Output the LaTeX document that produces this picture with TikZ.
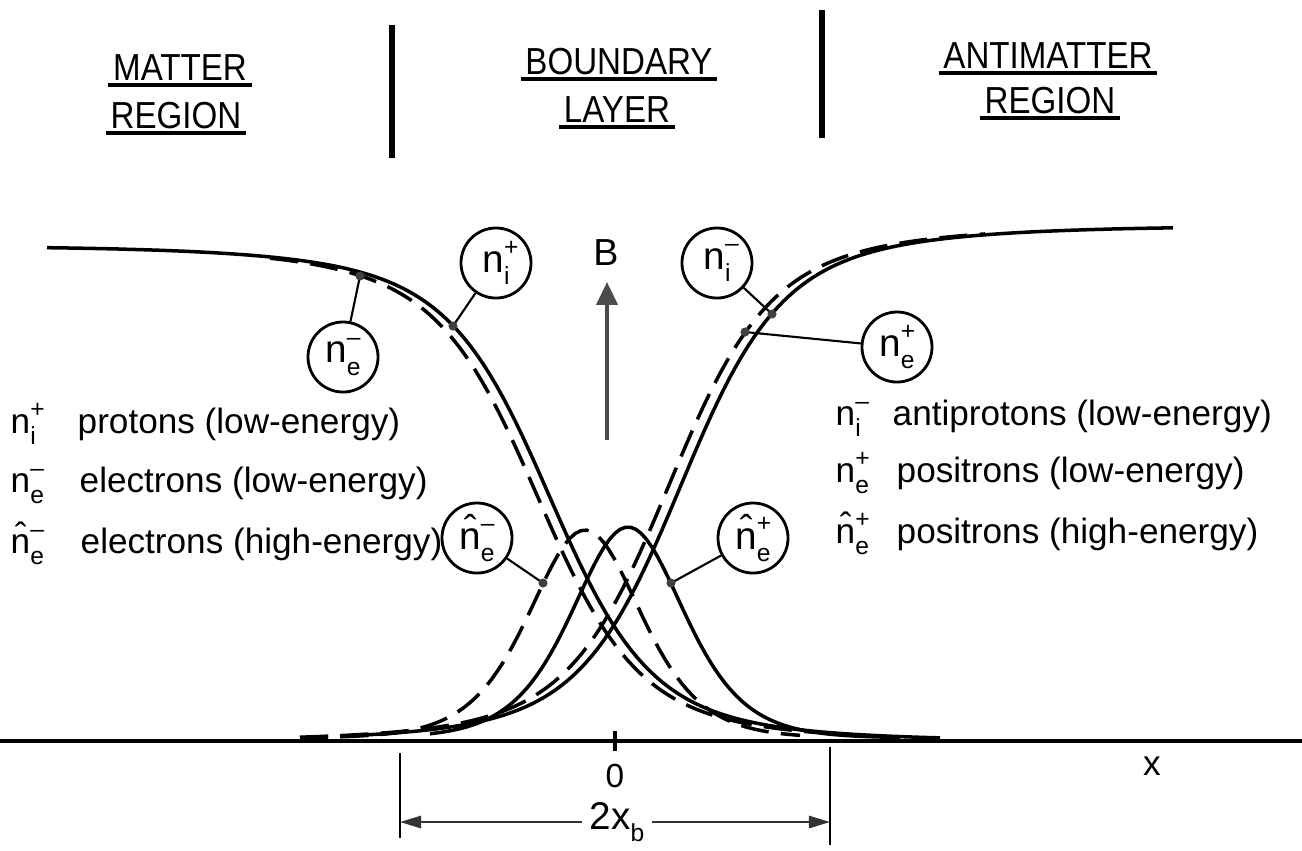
\documentclass[tikz,border=0pt]{standalone}
\usepackage{fontspec}
\setmainfont{Liberation Sans}
\newfontfamily\headfont[FakeStretch=0.88]{Liberation Sans}
\usetikzlibrary{arrows.meta,positioning}

% density symbol: base letter, subscript, superscript
\newcommand{\dens}[3]{#1\makebox[0pt][l]{\raisebox{0.85ex}{\scriptsize #3}}\raisebox{-0.6ex}{\scriptsize #2}}

\tikzstyle{heading} = [inner sep=0pt, anchor=base, font=\headfont\fontsize{10.7}{12}\selectfont]
\tikzstyle{uline} = [line width=1.2pt]
\tikzstyle{divider} = [line width=1.5pt]
\tikzstyle{solidcurve} = [line width=1pt]
\tikzstyle{dashcurve} = [line width=1pt, dash pattern=on 8pt off 3.5pt]
\tikzstyle{tag} = [
    circle,
    draw,
    line width=0.8pt,
    minimum size=0.7cm,
    inner sep=0pt,
    fill=white,
    font=\fontsize{11}{11}\selectfont
]
\tikzstyle{lead} = [line width=0.6pt]
\tikzstyle{blob} = [fill=black!75]
\tikzstyle{legend} = [anchor=base west, inner sep=0pt, font=\fontsize{10}{12}\selectfont]
\tikzstyle{axis} = [line width=0.9pt]
\tikzstyle{field} = [
    -{Triangle[length=6.5pt,width=6pt]},
    line width=1pt,
    draw=black!70
]
\tikzstyle{dim} = [
    -{Triangle[length=6pt,width=3.5pt]},
    line width=0.6pt,
    draw=black!80
]

\begin{document}
\begin{tikzpicture}[x=0.01cm, y=-0.01cm]
    \useasboundingbox (0,0) rectangle (1302,850);

    % Region headings
    \node[heading] (mat1) at (180,80) {MATTER};
    \node[heading] (mat2) at (176,128) {REGION};
    \node[heading] (bnd1) at (619,74) {BOUNDARY};
    \node[heading] (bnd2) at (617,122) {LAYER};
    \node[heading] (anti1) at (1048,68) {ANTIMATTER};
    \node[heading] (anti2) at (1050,113) {REGION};
    \foreach \h in {mat1,mat2,bnd1,bnd2,anti1,anti2}
        \draw[uline] ([xshift=-1.2pt,yshift=-1.5pt]\h.base west) -- ([xshift=1.2pt,yshift=-1.5pt]\h.base east);

    % Dividers
    \draw[divider] (392,25) -- (392,158);
    \draw[divider] (822,10) -- (822,138);

    % Axis
    \draw[axis] (0,741) -- (1302,741);
    \draw[axis] (615,731) -- (615,751);
    \node[font=\fontsize{9.5}{10}\selectfont] (zero) at (615,776) {0};
    \node[font=\fontsize{10}{10}\selectfont] (xlab) at (1152,766) {x};

    % Low-energy densities
    \draw[solidcurve] plot[domain=47:940, samples=140] (\x, {741-400/(1+exp((\x-550)/48))-95/(1+exp((\x-530)/120))});
    \draw[dashcurve] plot[domain=270:815, samples=110] (\x, {741-400/(1+exp((\x-538)/48))-95/(1+exp((\x-518)/120))});
    \draw[solidcurve] plot[domain=340:1173, samples=140] (\x, {741-420/(1+exp(-(\x-680)/48))-95/(1+exp(-(\x-700)/120))});
    \draw[dashcurve] plot[domain=300:985, samples=120] (\x, {741-420/(1+exp(-(\x-668)/48))-95/(1+exp(-(\x-688)/120))});

    % High-energy densities
    \draw[dashcurve] plot[domain=300:800, samples=90] (\x, {738-208*4/(exp((\x-585)/75)+exp(-(\x-585)/75))^2});
    \draw[solidcurve] plot[domain=430:900, samples=90] (\x, {738-211*4/(exp((\x-628)/75)+exp(-(\x-628)/75))^2});

    % Points on the curves
    \coordinate (pne) at (360,276);
    \coordinate (pnip) at (453,326);
    \coordinate (pnim) at (772,314);
    \coordinate (pnep) at (745,332);
    \coordinate (phne) at (543,583);
    \coordinate (phnp) at (671,583);

    % Circled labels
    \node[tag] (cne) at (343,357) {\dens{n}{e}{–}};
    \node[tag] (cnip) at (496,263) {\dens{n}{i}{+}};
    \node[tag] (cnim) at (717,263) {\dens{n}{i}{–}};
    \node[tag] (cnep) at (897,347) {\dens{n}{e}{+}};
    \node[tag] (chne) at (477,538) {\dens{\^{n}}{e}{–}};
    \node[tag] (chnp) at (753,538) {\dens{\^{n}}{e}{+}};

    \draw[lead] (cne) -- (pne);
    \draw[lead] (cnip) -- (pnip);
    \draw[lead] (cnim) -- (pnim);
    \draw[lead] (cnep) -- (pnep);
    \draw[lead] (chne) -- (phne);
    \draw[lead] (chnp) -- (phnp);
    \foreach \p in {pne,pnip,pnim,pnep,phne,phnp}
        \fill[blob] (\p) circle[radius=1.3pt];

    % Magnetic field
    \node[font=\fontsize{10.7}{11}\selectfont] (blab) at (606,253) {B};
    \coordinate (bfoot) at (607,440);
    \coordinate (btip) at (607,282);
    \draw[field] (bfoot) -- (btip);

    % Legend, matter side
    \node[legend] (lsym1) at (10,433) {\dens{n}{i}{+}};
    \node[legend] (ltxt1) at (77,433) {protons (low-energy)};
    \node[legend] (lsym2) at (10,492) {\dens{n}{e}{–}};
    \node[legend] (ltxt2) at (79,492) {electrons (low-energy)};
    \node[legend] (lsym3) at (10,553) {\dens{\^{n}}{e}{–}};
    \node[legend] (ltxt3) at (80,553) {electrons (high-energy)};

    % Legend, antimatter side
    \node[legend] (rsym1) at (835,425) {\dens{n}{i}{–}};
    \node[legend] (rtxt1) at (892,425) {antiprotons (low-energy)};
    \node[legend] (rsym2) at (835,482) {\dens{n}{e}{+}};
    \node[legend] (rtxt2) at (896,482) {positrons (low-energy)};
    \node[legend] (rsym3) at (835,543) {\dens{\^{n}}{e}{+}};
    \node[legend] (rtxt3) at (896,543) {positrons (high-energy)};

    % Boundary layer width
    \draw[lead] (400,753) -- (400,838);
    \draw[lead] (830,747) -- (830,845);
    \coordinate (dl) at (400,822);
    \coordinate (dr) at (830,822);
    \node[fill=white, inner sep=2pt, font=\fontsize{11}{11}\selectfont] (wlab) at (617,822) {2x\raisebox{-0.6ex}{\scriptsize b}};
    \draw[dim] (wlab) -- (dl);
    \draw[dim] (wlab) -- (dr);
\end{tikzpicture}
\end{document}
